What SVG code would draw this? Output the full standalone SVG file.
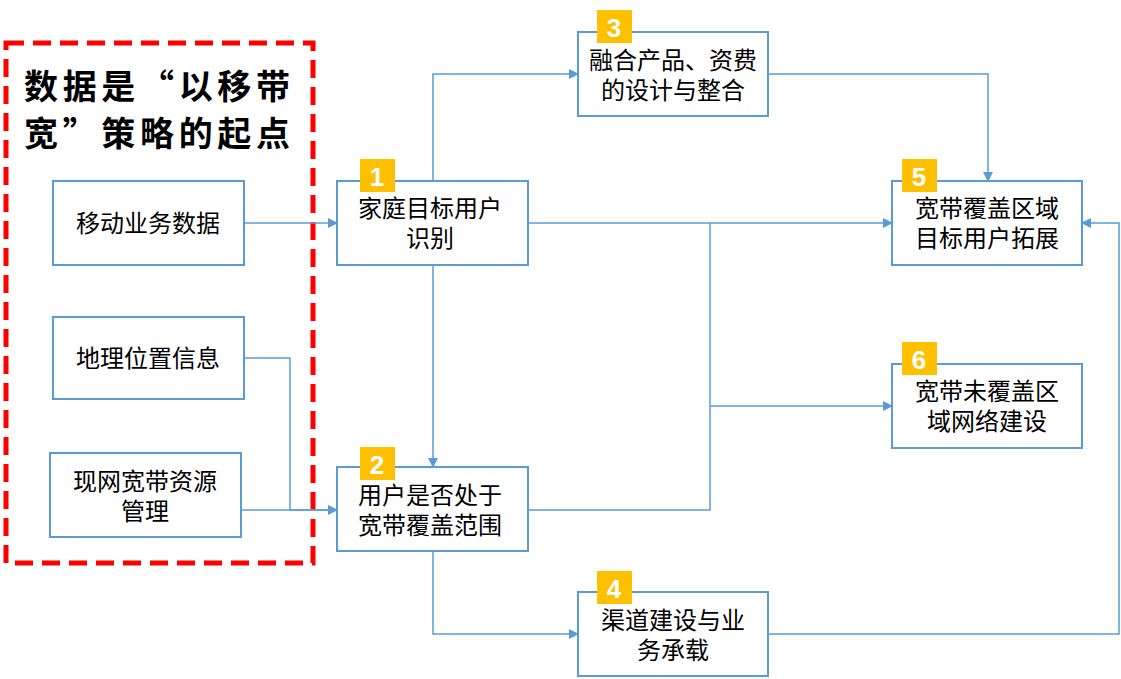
<svg xmlns="http://www.w3.org/2000/svg" width="1121" height="679" viewBox="0 0 1121 679">
<defs>
<marker id="ar" viewBox="0 0 10 10" refX="9" refY="5" markerWidth="10" markerHeight="10" markerUnits="userSpaceOnUse" orient="auto"><path d="M0,0 L10,5 L0,10 z" fill="#5B9BD5"/></marker>
<style>
.box{fill:#fff;stroke:#5B9BD5;stroke-width:2}
.t{font-family:"Liberation Sans","Noto Sans CJK SC",sans-serif;font-size:24px;fill:#000;text-anchor:middle}
.bd{fill:#FFC000}
.bn{font-family:"Liberation Sans",sans-serif;font-size:26px;font-weight:bold;fill:#fff;text-anchor:middle}
.c{fill:none;stroke:#5B9BD5;stroke-width:1.5}
.ti{font-family:"Noto Sans CJK SC",sans-serif;font-size:34px;font-weight:bold;fill:#000}
</style>
</defs>
<rect width="1121" height="679" fill="#fff"/>
<rect x="6" y="43" width="307" height="520" fill="none" stroke="#FF0000" stroke-width="5" stroke-dasharray="18,9"/>
<text class="ti" x="24" y="99" textLength="266" lengthAdjust="spacing">数据是“以移带</text>
<text class="ti" x="24" y="146" textLength="266" lengthAdjust="spacing">宽”策略的起点</text>
<g id="connectors">
<path class="c" d="M244,223 H337" marker-end="url(#ar)"/>
<path class="c" d="M244,358 H290 V510 H337" marker-end="url(#ar)"/>
<path class="c" d="M241,510 H330"/>
<path class="c" d="M433,181 V74 H578" marker-end="url(#ar)"/>
<path class="c" d="M433,265 V467" marker-end="url(#ar)"/>
<path class="c" d="M528,223 H892" marker-end="url(#ar)"/>
<path class="c" d="M528,510 H710 V223"/>
<path class="c" d="M710,406 H892" marker-end="url(#ar)"/>
<path class="c" d="M768,74 H988 V181" marker-end="url(#ar)"/>
<path class="c" d="M433,551 V634 H578" marker-end="url(#ar)"/>
<path class="c" d="M768,634 H1119 V223 H1082" marker-end="url(#ar)"/>
</g>
<g id="n_mobile"><rect class="box" x="53" y="181" width="191" height="84"/><text class="t" x="148" y="232">移动业务数据</text></g>
<g id="n_geo"><rect class="box" x="53" y="317" width="191" height="82"/><text class="t" x="148" y="367">地理位置信息</text></g>
<g id="n_res"><rect class="box" x="50" y="453" width="191" height="84"/><text class="t" x="145" y="490">现网宽带资源</text><text class="t" x="145" y="520">管理</text></g>
<g id="n1"><rect class="box" x="337" y="181" width="191" height="84"/><rect class="bd" x="360" y="159" width="35" height="33"/><text class="bn" x="377" y="186">1</text><text class="t" x="430" y="217">家庭目标用户</text><text class="t" x="430" y="247">识别</text></g>
<g id="n2"><rect class="box" x="337" y="467" width="191" height="84"/><rect class="bd" x="360" y="447" width="35" height="33"/><text class="bn" x="377" y="474">2</text><text class="t" x="430" y="504">用户是否处于</text><text class="t" x="430" y="534">宽带覆盖范围</text></g>
<g id="n3"><rect class="box" x="578" y="32" width="190" height="84"/><rect class="bd" x="597" y="10" width="35" height="33"/><text class="bn" x="614" y="37">3</text><text class="t" x="673" y="69">融合产品、资费</text><text class="t" x="673" y="99">的设计与整合</text></g>
<g id="n4"><rect class="box" x="578" y="592" width="190" height="84"/><rect class="bd" x="597" y="571" width="35" height="33"/><text class="bn" x="614" y="598">4</text><text class="t" x="673" y="629">渠道建设与业</text><text class="t" x="673" y="659">务承载</text></g>
<g id="n5"><rect class="box" x="892" y="181" width="190" height="84"/><rect class="bd" x="902" y="159" width="35" height="33"/><text class="bn" x="919" y="186">5</text><text class="t" x="987" y="217">宽带覆盖区域</text><text class="t" x="987" y="247">目标用户拓展</text></g>
<g id="n6"><rect class="box" x="892" y="364" width="190" height="84"/><rect class="bd" x="902" y="342" width="35" height="33"/><text class="bn" x="919" y="369">6</text><text class="t" x="987" y="400">宽带未覆盖区</text><text class="t" x="987" y="430">域网络建设</text></g>
</svg>
